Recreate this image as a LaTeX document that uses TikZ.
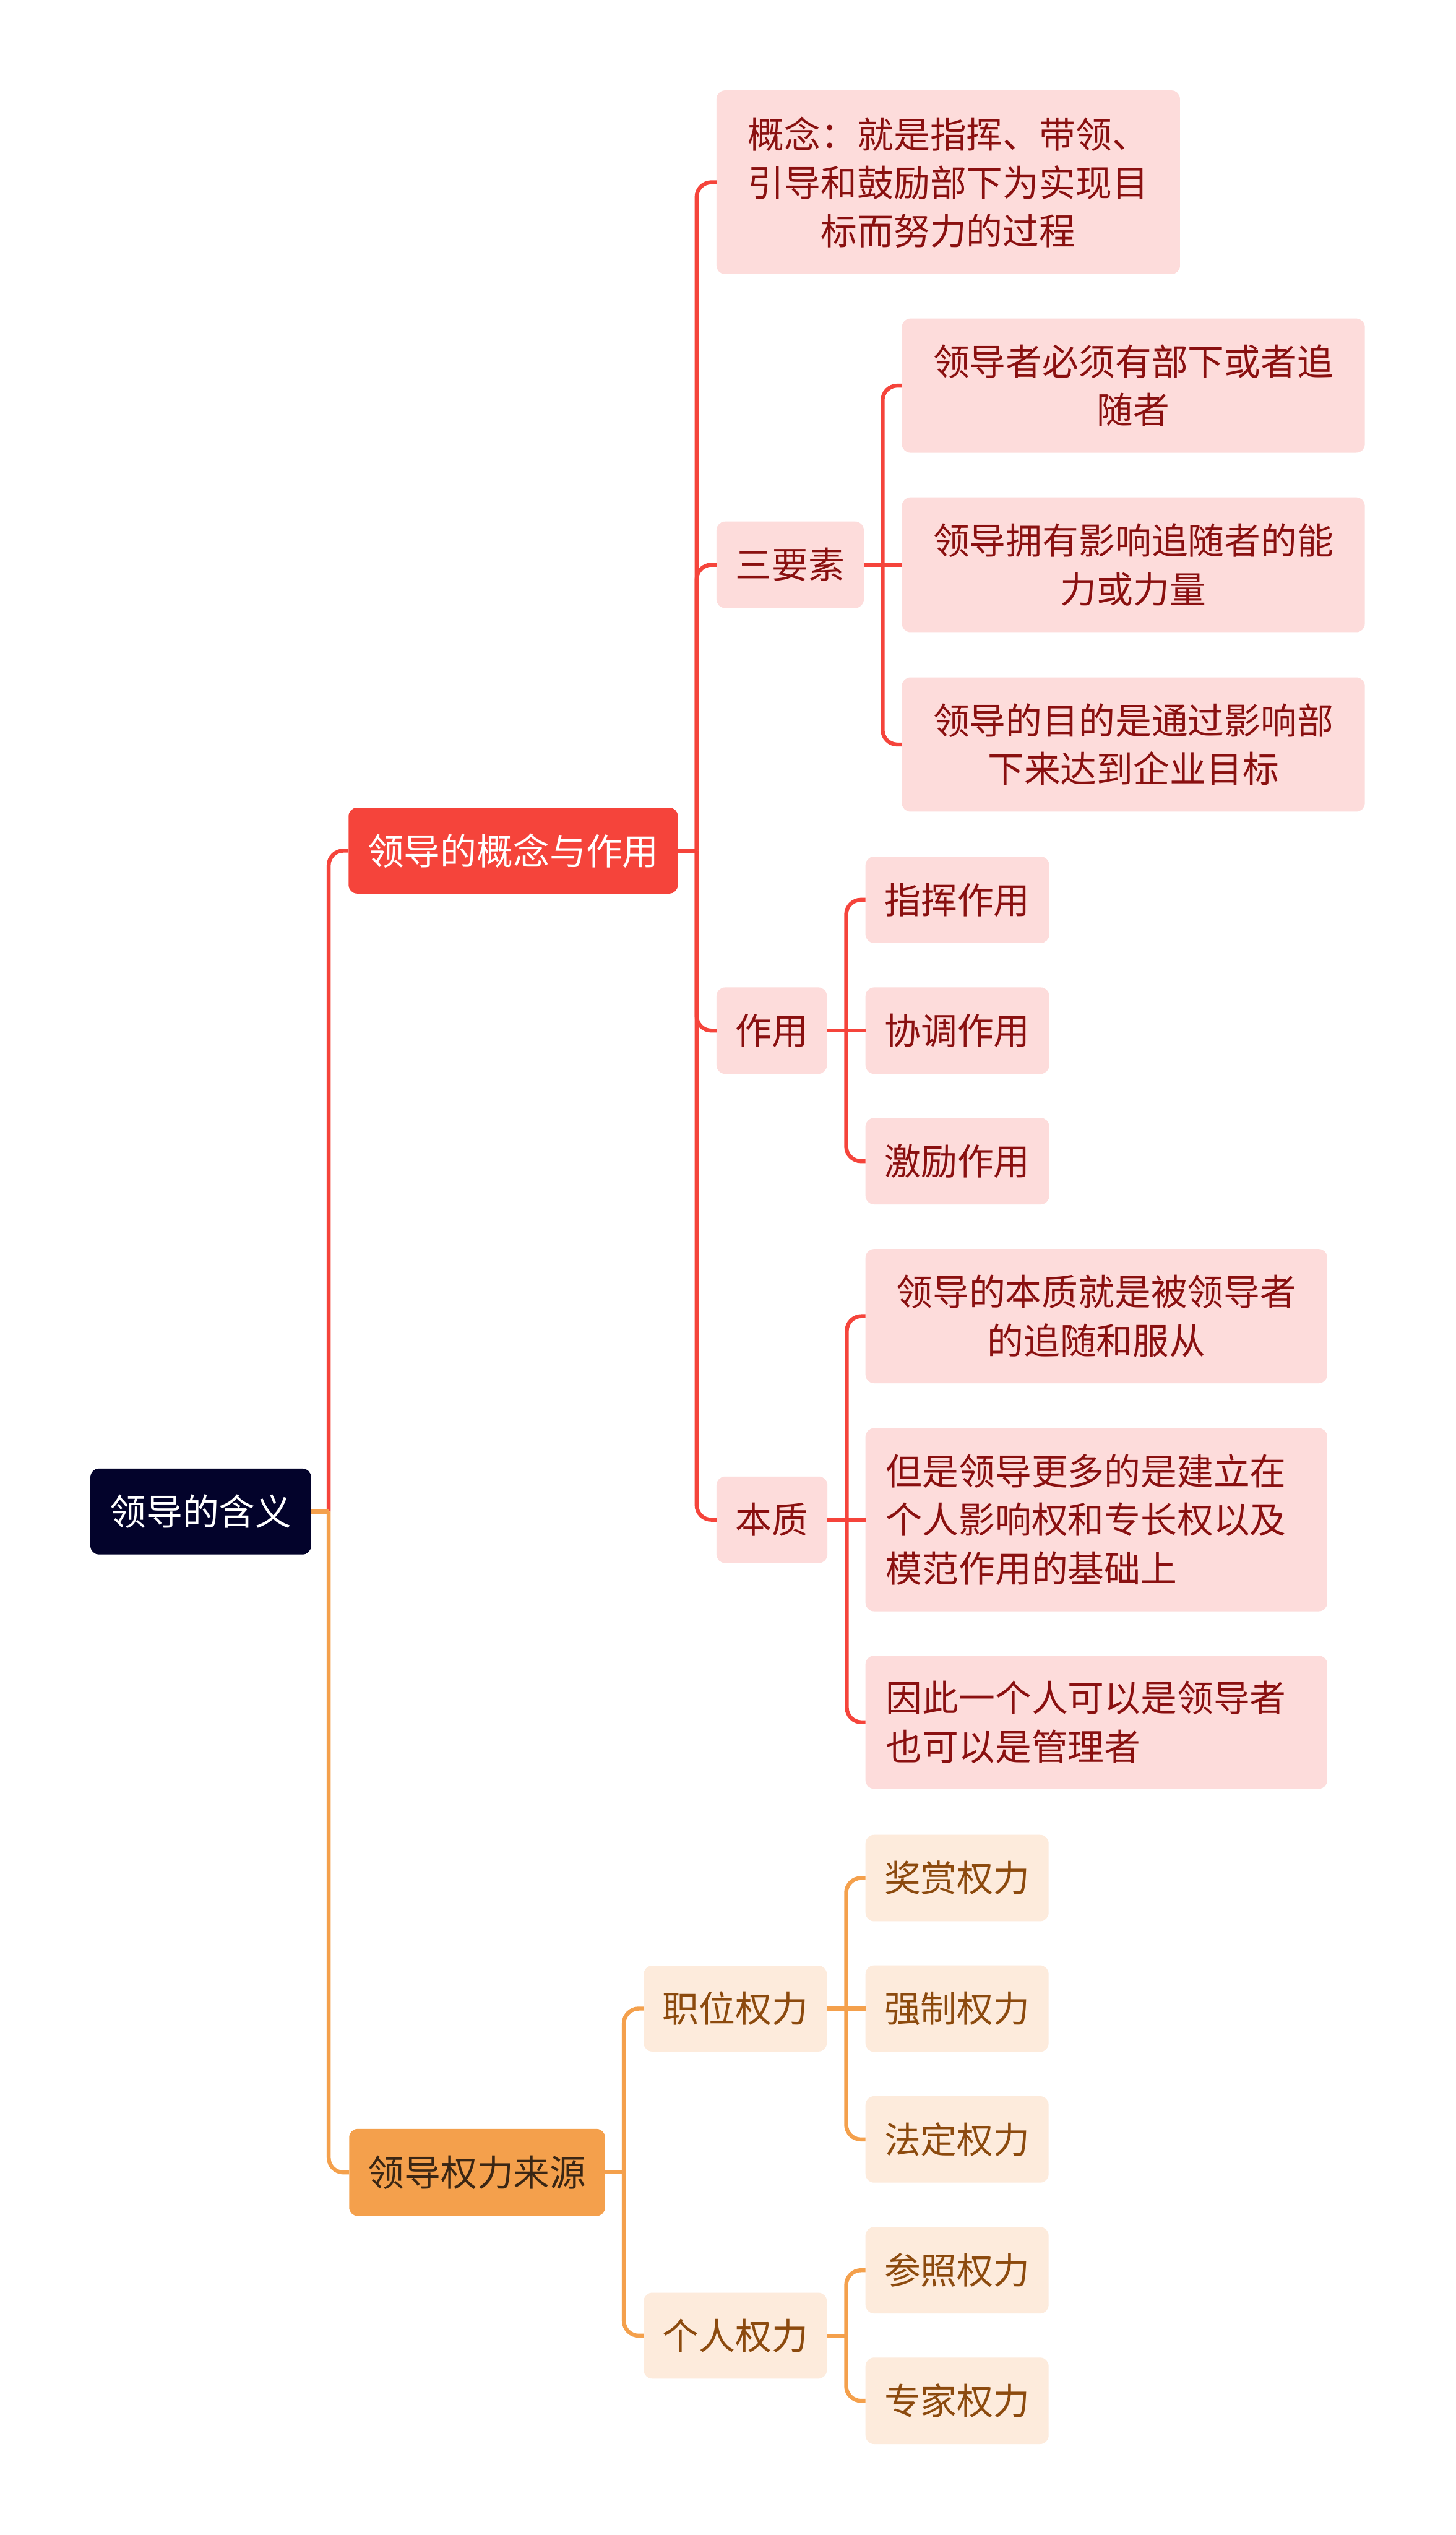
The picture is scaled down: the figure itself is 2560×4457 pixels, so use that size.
\documentclass[tikz,border=0pt]{standalone}
\usepackage{fontspec}
\newfontfamily\cjk{Noto Sans CJK SC}
\definecolor{rootc}{HTML}{03032B}
\definecolor{redm}{HTML}{F5443B}
\definecolor{pinkf}{HTML}{FDDCDB}
\definecolor{redt}{HTML}{8A1010}
\definecolor{orm}{HTML}{F4A04C}
\definecolor{orf}{HTML}{FDEBDC}
\definecolor{ort}{HTML}{8C4A0E}
\definecolor{ordark}{HTML}{3A2614}
\tikzset{
  box/.style={rounded corners=15pt, inner sep=0pt, align=center,
    font=\cjk\fontsize{64pt}{85pt}\selectfont},
  rootbox/.style={box, fill=rootc, text=white},
  redone/.style={box, fill=redm, text=white},
  orone/.style={box, fill=orm, text=ordark},
  pinkbox/.style={box, fill=pinkf, text=redt},
  pinkleft/.style={box, fill=pinkf, text=redt, align=left, inner xsep=36pt, text width=740pt},
  orbox/.style={box, fill=orf, text=ort},
  redline/.style={draw=redm, line width=7pt},
  orline/.style={draw=orm, line width=7pt},
  rc/.style={rounded corners=26pt}
}
\begin{document}
\begin{tikzpicture}[x=1pt,y=-1pt]
\useasboundingbox (0,0) rectangle (2560,4457);
\fill[white] (0,0) rectangle (2560,4457);

% ---------- nodes ----------
\node[rootbox, minimum width=388pt, minimum height=151pt] (root) at (353,2657.5) {领导的含义};

\node[redone, minimum width=579pt, minimum height=151pt] (a) at (902.5,1495.5) {领导的概念与作用};
\node[orone, minimum width=450pt, minimum height=153pt] (b) at (839,3819.5) {领导权力来源};

\node[pinkbox, minimum width=815pt, minimum height=323pt] (a1) at (1667.5,320.5)
  {概念：就是指挥、带领、\\引导和鼓励部下为实现目\\标而努力的过程};
\node[pinkbox, minimum width=259pt, minimum height=152pt] (a2) at (1389.5,993) {三要素};
\node[pinkbox, minimum width=194pt, minimum height=152pt] (a3) at (1357,1812) {作用};
\node[pinkbox, minimum width=195pt, minimum height=152pt] (a4) at (1357.5,2672) {本质};

\node[pinkbox, minimum width=814pt, minimum height=236pt] (a21) at (1993,678) {领导者必须有部下或者追\\随者};
\node[pinkbox, minimum width=814pt, minimum height=237pt] (a22) at (1993,993) {领导拥有影响追随者的能\\力或力量};
\node[pinkbox, minimum width=814pt, minimum height=236pt] (a23) at (1993,1309) {领导的目的是通过影响部\\下来达到企业目标};

\node[pinkbox, minimum width=323pt, minimum height=152pt] (a31) at (1683.5,1582) {指挥作用};
\node[pinkbox, minimum width=323pt, minimum height=152pt] (a32) at (1683.5,1812) {协调作用};
\node[pinkbox, minimum width=323pt, minimum height=152pt] (a33) at (1683.5,2041.5) {激励作用};

\node[pinkbox, minimum width=812pt, minimum height=236pt] (a41) at (1928,2314) {领导的本质就是被领导者\\的追随和服从};
\node[pinkleft, minimum height=322pt] (a42) at (1928,2672) {但是领导更多的是建立在\\个人影响权和专长权以及\\模范作用的基础上};
\node[pinkleft, minimum height=234pt] (a43) at (1928,3028) {因此一个人可以是领导者\\也可以是管理者};

\node[orbox, minimum width=322pt, minimum height=151pt] (b1) at (1293,3531.5) {职位权力};
\node[orbox, minimum width=322pt, minimum height=151pt] (b2) at (1293,4106.5) {个人权力};

\node[orbox, minimum width=322pt, minimum height=152pt] (b11) at (1683,3302) {奖赏权力};
\node[orbox, minimum width=322pt, minimum height=152pt] (b12) at (1683,3531.5) {强制权力};
\node[orbox, minimum width=322pt, minimum height=152pt] (b13) at (1683,3761.5) {法定权力};
\node[orbox, minimum width=322pt, minimum height=152pt] (b21) at (1683,3991.5) {参照权力};
\node[orbox, minimum width=322pt, minimum height=152pt] (b22) at (1683,4221) {专家权力};

% ---------- junction coordinates ----------
\coordinate (m0) at (578,2657.5);
\coordinate (m1) at (1225,1495.5);
\coordinate (m2) at (1552,993);
\coordinate (m3) at (1488,1812);
\coordinate (m4) at (1489,2672);
\coordinate (m5) at (1097,3819.5);
\coordinate (m6) at (1488,3531.5);
\coordinate (m7) at (1488,4106.5);

% ---------- red connectors ----------
\begin{scope}[redline]
\draw (root.east) -- (m0);
\draw[rc] (m0) |- (a.west);
\draw (a.east) -- (m1);
\draw[rc] (m1) |- (a1.west);
\draw[rc] (m1) |- (a2.west);
\draw[rc] (m1) |- (a3.west);
\draw[rc] (m1) |- (a4.west);
\draw (a2.east) -- (m2);
\draw[rc] (m2) |- (a21.west);
\draw (m2) -- (a22.west);
\draw[rc] (m2) |- (a23.west);
\draw (a3.east) -- (m3);
\draw[rc] (m3) |- (a31.west);
\draw (m3) -- (a32.west);
\draw[rc] (m3) |- (a33.west);
\draw (a4.east) -- (m4);
\draw[rc] (m4) |- (a41.west);
\draw (m4) -- (a42.west);
\draw[rc] (m4) |- (a43.west);
\end{scope}

% ---------- orange connectors ----------
\begin{scope}[orline]
\draw (root.east) -- (m0);
\draw[rc] (m0) |- (b.west);
\draw (b.east) -- (m5);
\draw[rc] (m5) |- (b1.west);
\draw[rc] (m5) |- (b2.west);
\draw (b1.east) -- (m6);
\draw[rc] (m6) |- (b11.west);
\draw (m6) -- (b12.west);
\draw[rc] (m6) |- (b13.west);
\draw (b2.east) -- (m7);
\draw[rc] (m7) |- (b21.west);
\draw[rc] (m7) |- (b22.west);
\end{scope}
\end{tikzpicture}
\end{document}
